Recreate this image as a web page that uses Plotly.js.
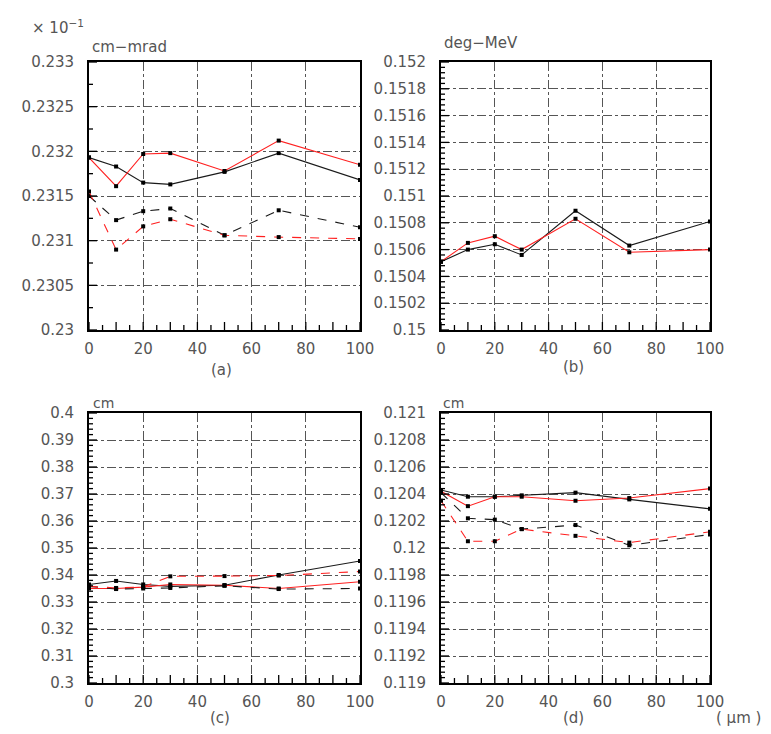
<!DOCTYPE html>
<html>
<head>
<meta charset="utf-8">
<script src="https://cdn.plot.ly/plotly-3.0.1.min.js"></script>
<style>html,body{margin:0;padding:0;background:#fff;}#plot{width:771px;height:734px;}</style>
</head>
<body>
<div id="plot"></div>
<script>
// x positions (μm)
const xUm = [0, 10, 20, 30, 50, 70, 100];

// (a) cm-mrad (×10^-1)
const aBlackSolid = [0.23193, 0.23183, 0.23165, 0.23163, 0.23177, 0.23198, 0.23168];
const aRedSolid   = [0.23193, 0.23161, 0.23197, 0.23198, 0.23178, 0.23212, 0.23185];
const aBlackDash  = [0.23150, 0.23123, 0.23133, 0.23136, 0.23106, 0.23134, 0.23115];
const aRedDash    = [0.23155, 0.23090, 0.23116, 0.23124, 0.23106, 0.23104, 0.23102];

// (b) deg-MeV
const bBlackSolid = [0.15051, 0.15060, 0.15064, 0.15056, 0.15089, 0.15063, 0.15081];
const bRedSolid   = [0.15051, 0.15065, 0.15070, 0.15060, 0.15083, 0.15058, 0.15060];

// (c) cm
const cBlackSolid = [0.3365, 0.3378, 0.3365, 0.3358, 0.3362, 0.3400, 0.3452];
const cBlackDash  = [0.3358, 0.3348, 0.3350, 0.3352, 0.3360, 0.3348, 0.3350];
const cRedSolid   = [0.3350, 0.3350, 0.3355, 0.3365, 0.3362, 0.3350, 0.3375];
const cRedDash    = [0.3358, 0.3352, 0.3356, 0.3395, 0.3396, 0.3398, 0.3413];

// (d) cm
const dBlackSolid = [0.12043, 0.12038, 0.12038, 0.12039, 0.12041, 0.12036, 0.12029];
const dRedSolid   = [0.12042, 0.12031, 0.12038, 0.12038, 0.12035, 0.12037, 0.12044];
const dBlackDash  = [0.12041, 0.12022, 0.12021, 0.12014, 0.12017, 0.12002, 0.12010];
const dRedDash    = [0.12035, 0.12005, 0.12005, 0.12014, 0.12009, 0.12004, 0.12012];

// tick labels
const xTickVals = [0, 20, 40, 60, 80, 100];
const xTickText = ["0", "20", "40", "60", "80", "100"];
const aTickVals = [0.23, 0.2305, 0.231, 0.2315, 0.232, 0.2325, 0.233];
const aTickText = ["0.23", "0.2305", "0.231", "0.2315", "0.232", "0.2325", "0.233"];
const bTickVals = [0.15, 0.1502, 0.1504, 0.1506, 0.1508, 0.151, 0.1512, 0.1514, 0.1516, 0.1518, 0.152];
const bTickText = ["0.15", "0.1502", "0.1504", "0.1506", "0.1508", "0.151", "0.1512", "0.1514", "0.1516", "0.1518", "0.152"];
const cTickVals = [0.3, 0.31, 0.32, 0.33, 0.34, 0.35, 0.36, 0.37, 0.38, 0.39, 0.4];
const cTickText = ["0.3", "0.31", "0.32", "0.33", "0.34", "0.35", "0.36", "0.37", "0.38", "0.39", "0.4"];
const dTickVals = [0.119, 0.1192, 0.1194, 0.1196, 0.1198, 0.12, 0.1202, 0.1204, 0.1206, 0.1208, 0.121];
const dTickText = ["0.119", "0.1192", "0.1194", "0.1196", "0.1198", "0.12", "0.1202", "0.1204", "0.1206", "0.1208", "0.121"];

const BLACK = '#1a1a1a', RED = '#ff2020';
function tr(y, color, dash, xa, ya) {
  return {
    x: xUm, y: y, xaxis: xa, yaxis: ya, type: 'scatter', mode: 'lines+markers',
    line: {color: color, width: 1.1, dash: dash},
    marker: {color: '#000', size: 4, symbol: 'square'},
    showlegend: false, hoverinfo: 'skip'
  };
}

const data = [
  tr(aBlackSolid, BLACK, 'solid', 'x', 'y'),
  tr(aRedSolid, RED, 'solid', 'x', 'y'),
  tr(aBlackDash, BLACK, 'dash', 'x', 'y'),
  tr(aRedDash, RED, 'dash', 'x', 'y'),
  tr(bBlackSolid, BLACK, 'solid', 'x2', 'y2'),
  tr(bRedSolid, RED, 'solid', 'x2', 'y2'),
  tr(cBlackSolid, BLACK, 'solid', 'x3', 'y3'),
  tr(cRedSolid, RED, 'solid', 'x3', 'y3'),
  tr(cBlackDash, BLACK, 'dash', 'x3', 'y3'),
  tr(cRedDash, RED, 'dash', 'x3', 'y3'),
  tr(dBlackSolid, BLACK, 'solid', 'x4', 'y4'),
  tr(dRedSolid, RED, 'solid', 'x4', 'y4'),
  tr(dBlackDash, BLACK, 'dash', 'x4', 'y4'),
  tr(dRedDash, RED, 'dash', 'x4', 'y4')
];

const FONT = {family: 'DejaVu Sans, sans-serif', size: 15, color: '#555'};
function xax(domain, anchor) {
  return {
    domain: domain, anchor: anchor, range: [0, 100], tickmode: 'array', tickvals: xTickVals, ticktext: xTickText,
    ticks: '', showgrid: true, gridcolor: '#555', griddash: 'dashdot', gridwidth: 1,
    showline: true, linecolor: '#000', linewidth: 1.8, mirror: true,
    zeroline: false, tickfont: FONT, ticklabelstandoff: 4
  };
}
function yax(domain, anchor, range, vals, text) {
  return {
    domain: domain, anchor: anchor, range: range, tickmode: 'array', tickvals: vals, ticktext: text,
    ticks: '', showgrid: true, gridcolor: '#555', griddash: 'dashdot', gridwidth: 1,
    showline: true, linecolor: '#000', linewidth: 1.8, mirror: true,
    zeroline: false, tickfont: FONT, ticklabelstandoff: 10
  };
}

// tick marks drawn inside the frame (axis-unit positions, pixel lengths)
const shapes = [];
function xTicks(xref, yref) {
  for (let i = 0; i <= 20; i++) {
    const v = i * 5, len = (i % 2 === 0) ? 8 : 5;
    shapes.push({type: 'line', xref: xref, yref: yref + ' domain', ysizemode: 'pixel', yanchor: 0,
      x0: v, x1: v, y0: 0, y1: len, line: {color: '#000', width: 1.3}, layer: 'above'});
  }
}
function yTicks(xref, yref, lo, step, n, every) {
  for (let i = 0; i <= n; i++) {
    const v = lo + i * step, len = (i % every === 0) ? 8 : 4;
    shapes.push({type: 'line', yref: yref, xref: xref + ' domain', xsizemode: 'pixel', xanchor: 0,
      y0: v, y1: v, x0: 0, x1: len, line: {color: '#000', width: 1.3}, layer: 'above'});
  }
}
xTicks('x', 'y'); xTicks('x2', 'y2'); xTicks('x3', 'y3'); xTicks('x4', 'y4');
yTicks('x', 'y', 0.23, 0.00025, 12, 2);
yTicks('x2', 'y2', 0.15, 0.00004, 50, 5);
yTicks('x3', 'y3', 0.3, 0.002, 50, 5);
yTicks('x4', 'y4', 0.119, 0.00004, 50, 5);

const W = 771, H = 734;
const px = v => v / W, py = v => 1 - v / H;
const colA = [px(89), px(360)], colB = [px(441), px(710)];
const rowTop = [py(330), py(62)], rowBot = [py(683), py(413)];

function ann(text, x, y, xanchor, size) {
  return {text: text, x: px(x), y: py(y), xref: 'paper', yref: 'paper', xanchor: xanchor, yanchor: 'middle',
          showarrow: false, font: {family: 'DejaVu Sans, sans-serif', size: size, color: '#555'}};
}

const layout = {
  width: W, height: H, margin: {l: 0, r: 0, t: 0, b: 0},
  paper_bgcolor: '#fff', plot_bgcolor: '#fff', showlegend: false,
  xaxis: xax(colA, 'y'), yaxis: yax(rowTop, 'x', [0.23, 0.233], aTickVals, aTickText),
  xaxis2: xax(colB, 'y2'), yaxis2: yax(rowTop, 'x2', [0.15, 0.152], bTickVals, bTickText),
  xaxis3: xax(colA, 'y3'), yaxis3: yax(rowBot, 'x3', [0.3, 0.4], cTickVals, cTickText),
  xaxis4: xax(colB, 'y4'), yaxis4: yax(rowBot, 'x4', [0.119, 0.121], dTickVals, dTickText),
  shapes: shapes,
  annotations: [
    ann('× 10<sup>−1</sup>', 30, 27, 'left', 15),
    ann('cm−mrad', 90, 47, 'left', 15),
    ann('deg−MeV', 442, 43, 'left', 15),
    ann('cm', 91, 403, 'left', 14),
    ann('cm', 441, 403, 'left', 14),
    ann('(a)', 222, 370, 'center', 15),
    ann('(b)', 573, 367, 'center', 15),
    ann('(c)', 220, 718, 'center', 15),
    ann('(d)', 573, 718, 'center', 15),
    ann('( μm )', 738, 718, 'center', 15)
  ]
};

Plotly.newPlot('plot', data, layout, {displayModeBar: false});
</script>
</body>
</html>
